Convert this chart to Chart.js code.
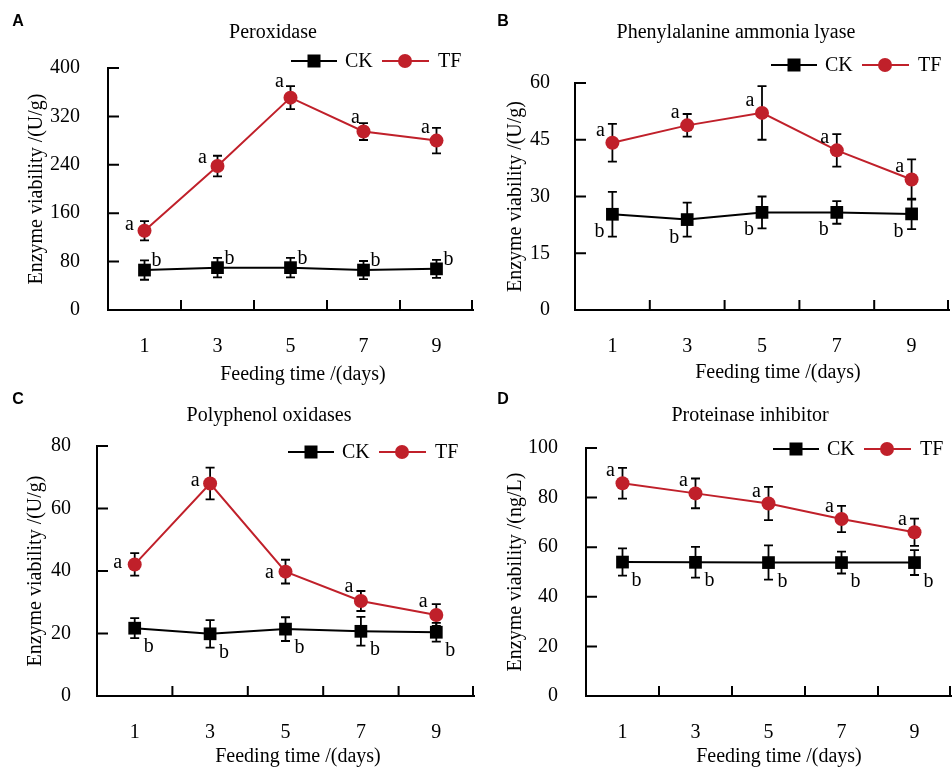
<!DOCTYPE html>
<html>
<head>
<meta charset="utf-8">
<title>Enzyme viability</title>
<script src="https://cdn.jsdelivr.net/npm/chart.js@4.4.1/dist/chart.umd.min.js"></script>
<style>
  html, body { margin: 0; padding: 0; background: #fff; }
  #figure { position: relative; width: 952px; height: 767px; overflow: hidden; background: #fff; }
  #figure canvas { position: absolute; }
</style>
</head>
<body>
<div id="figure"></div>
<script>
// Values (mean and error bar half-length)
const days = ['1', '3', '5', '7', '9'];
const seriesNames = ['CK', 'TF'];

// A - peroxidase
const podCK = [66, 70, 70, 66, 68];
const podCKErr = [16, 16, 16, 15, 15];
const podTF = [131, 238, 351, 295, 280];
const podTFErr = [16, 17, 19, 14, 21];
const podTicks = [0, 80, 160, 240, 320, 400];

// B - phenylalanine ammonia lyase
const palCK = [25.3, 23.9, 25.8, 25.8, 25.4];
const palCKErr = [5.9, 4.5, 4.2, 3.0, 4.0];
const palTF = [44.2, 48.8, 52.1, 42.2, 34.5];
const palTFErr = [5.0, 3.0, 7.1, 4.3, 5.3];
const palTicks = [0, 15, 30, 45, 60];

// C - polyphenol oxidases
const ppoCK = [21.7, 19.9, 21.4, 20.7, 20.4];
const ppoCKErr = [3.2, 4.4, 3.8, 4.6, 3.0];
const ppoTF = [42.1, 68.0, 39.8, 30.4, 25.9];
const ppoTFErr = [3.6, 5.1, 3.8, 3.2, 3.5];
const ppoTicks = [0, 20, 40, 60, 80];

// D - proteinase inhibitor
const piCK = [54.0, 53.9, 53.8, 53.8, 53.8];
const piCKErr = [5.5, 6.2, 6.9, 4.4, 5.0];
const piTF = [85.8, 81.7, 77.6, 71.4, 66.0];
const piTFErr = [6.2, 6.0, 6.7, 5.3, 5.5];
const piTicks = [0, 20, 40, 60, 80, 100];

// significance letters
const ckLetters = ['b', 'b', 'b', 'b', 'b'];
const tfLetters = ['a', 'a', 'a', 'a', 'a'];

const panelTags = ['A', 'B', 'C', 'D'];
const panelTitles = ['Peroxidase', 'Phenylalanine ammonia lyase', 'Polyphenol oxidases', 'Proteinase inhibitor'];
const yTitles = ['Enzyme viability /(U/g)', 'Enzyme viability /(U/g)', 'Enzyme viability /(U/g)', 'Enzyme viability /(ng/L)'];
const xTitle = 'Feeding time /(days)';

// Styles
const RED = '#c0202a';
const SERIF = "'Liberation Serif', 'Times New Roman', serif";
const CANVAS_W = 476, CANVAS_H = 390;

Chart.defaults.font.family = SERIF;
Chart.defaults.font.size = 20;
Chart.defaults.color = '#000';

// panel placement and plot box (local pixels)
const boxes = [
  { x: 0,   y: 0,   l: 108, r: 473, t: 68, b: 310, yPad: 28, yTitleX: 37, xTitleX: 303, xTitleY: 375, titleX: 273, titleY: 33, legX: 291, legY: 61, tagX: 18, tagY: 22 },
  { x: 476, y: 0,   l: 99,  r: 473, t: 83, b: 310, yPad: 25, yTitleX: 40, xTitleX: 302, xTitleY: 373, titleX: 260, titleY: 33, legX: 295, legY: 65, tagX: 27, tagY: 22 },
  { x: 0,   y: 384, l: 97,  r: 474, t: 62, b: 312, yPad: 26, yTitleX: 36, xTitleX: 298, xTitleY: 373, titleX: 269, titleY: 32, legX: 288, legY: 68, tagX: 18, tagY: 16 },
  { x: 476, y: 384, l: 110, r: 475, t: 64, b: 312, yPad: 28, yTitleX: 40, xTitleX: 303, xTitleY: 373, titleX: 274, titleY: 32, legX: 297, legY: 65, tagX: 27, tagY: 16 }
];

// where the letters sit next to each point
const letterShift = [
  { ck: [12, -11], tf: [[-15, -6], [-15, -8], [-11, -16], [-8, -14], [-11, -13]] },
  { ck: [-13, 16], tf: [-12, -12] },
  { ck: [14, 17], tf: [[-17, -1], [-15, -3], [-16, 1], [-12, -14], [-13, -13]] },
  { ck: [14, 17], tf: [-12, -12] }
];

function shiftAt(s, k) {
  return Array.isArray(s[0]) ? s[k] : s;
}

function extras(idx) {
  const box = boxes[idx];
  const shift = letterShift[idx];
  return {
    id: 'extras' + idx,
    beforeDatasetsDraw(chart) {
      const ctx = chart.ctx, ys = chart.scales.y, xs = chart.scales.x, area = chart.chartArea;
      ctx.save();
      ctx.strokeStyle = '#000';
      ctx.lineWidth = 2;
      // inward tick marks
      ctx.beginPath();
      for (let i = 0; i < days.length; i++) {
        const px = i < days.length - 1 ? (xs.getPixelForTick(i) + xs.getPixelForTick(i + 1)) / 2 : area.right - 1;
        ctx.moveTo(px, area.bottom);
        ctx.lineTo(px, area.bottom - 10);
      }
      ys.ticks.forEach(t => {
        if (t.value === 0) return;
        const py = ys.getPixelForValue(t.value);
        ctx.moveTo(area.left, py);
        ctx.lineTo(area.left + 11, py);
      });
      ctx.stroke();
      // error bars
      ctx.lineWidth = 1.8;
      chart.data.datasets.forEach((ds, di) => {
        const meta = chart.getDatasetMeta(di);
        ds.data.forEach((v, k) => {
          const x = meta.data[k].x;
          const top = ys.getPixelForValue(v + ds.errors[k]);
          const bot = ys.getPixelForValue(v - ds.errors[k]);
          ctx.beginPath();
          ctx.moveTo(x, top); ctx.lineTo(x, bot);
          ctx.moveTo(x - 4.5, top); ctx.lineTo(x + 4.5, top);
          ctx.moveTo(x - 4.5, bot); ctx.lineTo(x + 4.5, bot);
          ctx.stroke();
        });
      });
      ctx.restore();
    },
    afterDatasetsDraw(chart) {
      const ctx = chart.ctx;
      ctx.save();
      ctx.font = '20px ' + SERIF;
      ctx.fillStyle = '#000';
      ctx.textAlign = 'center';
      ctx.textBaseline = 'alphabetic';
      chart.data.datasets.forEach((ds, di) => {
        const meta = chart.getDatasetMeta(di);
        const s = di === 0 ? shift.ck : shift.tf;
        ds.letters.forEach((txt, k) => {
          const pt = meta.data[k];
          const d = shiftAt(s, k);
          const m = ctx.measureText(txt);
          const yy = pt.y + d[1] + (m.actualBoundingBoxAscent - m.actualBoundingBoxDescent) / 2;
          ctx.fillText(txt, pt.x + d[0], yy);
        });
      });
      ctx.restore();
    },
    afterDraw(chart) {
      const ctx = chart.ctx;
      ctx.save();
      ctx.fillStyle = '#000';
      ctx.font = '20px ' + SERIF;
      ctx.textAlign = 'center';
      ctx.textBaseline = 'middle';
      // title and x axis title
      ctx.fillText(panelTitles[idx], box.titleX, box.titleY);
      ctx.fillText(xTitle, box.xTitleX, box.xTitleY);
      // panel tag
      ctx.font = 'bold 16px "Liberation Sans", Arial, sans-serif';
      ctx.fillText(panelTags[idx], box.tagX, box.tagY);
      // legend
      const lx = box.legX, ly = box.legY;
      ctx.lineWidth = 2;
      ctx.strokeStyle = '#000';
      ctx.beginPath(); ctx.moveTo(lx, ly); ctx.lineTo(lx + 46, ly); ctx.stroke();
      ctx.fillStyle = '#000';
      ctx.fillRect(lx + 23 - 6.5, ly - 6.5, 13, 13);
      ctx.strokeStyle = RED;
      ctx.beginPath(); ctx.moveTo(lx + 91, ly); ctx.lineTo(lx + 138, ly); ctx.stroke();
      ctx.fillStyle = RED;
      ctx.beginPath(); ctx.arc(lx + 114, ly, 7, 0, Math.PI * 2); ctx.fill();
      ctx.fillStyle = '#000';
      ctx.font = '20px ' + SERIF;
      ctx.textAlign = 'left';
      ctx.fillText(seriesNames[0], lx + 54, ly + 1);
      ctx.fillText(seriesNames[1], lx + 147, ly + 1);
      ctx.restore();
    }
  };
}

function makePanel(idx, ck, ckErr, tf, tfErr, ticks) {
  const box = boxes[idx];
  const canvas = document.createElement('canvas');
  canvas.width = CANVAS_W;
  canvas.height = CANVAS_H;
  canvas.style.left = box.x + 'px';
  canvas.style.top = box.y + 'px';
  document.getElementById('figure').appendChild(canvas);

  new Chart(canvas, {
    type: 'line',
    data: {
      labels: days,
      datasets: [
        {
          label: seriesNames[0], data: ck, errors: ckErr, letters: ckLetters,
          borderColor: '#000', backgroundColor: '#000', borderWidth: 2,
          pointStyle: 'rect', pointRadius: 9, pointBorderWidth: 0, tension: 0, clip: false
        },
        {
          label: seriesNames[1], data: tf, errors: tfErr, letters: tfLetters,
          borderColor: RED, backgroundColor: RED, borderWidth: 2,
          pointStyle: 'circle', pointRadius: 7, pointBorderWidth: 0, tension: 0, clip: false
        }
      ]
    },
    options: {
      responsive: false,
      animation: false,
      devicePixelRatio: 1,
      events: [],
      layout: {
        autoPadding: false,
        padding: { left: 0, top: box.t, right: CANVAS_W - box.r, bottom: 0 }
      },
      plugins: { legend: { display: false }, title: { display: false }, tooltip: { enabled: false } },
      scales: {
        x: {
          type: 'category',
          offset: true,
          grid: { display: false, drawTicks: false },
          border: { display: true, color: '#000', width: 2 },
          ticks: { padding: 25, font: { size: 20 }, color: '#000', maxRotation: 0 },
          afterFit: s => {
            s.height = CANVAS_H - box.b;
            s.paddingLeft = 0;
            s.paddingRight = 0;
          }
        },
        y: {
          min: ticks[0],
          max: ticks[ticks.length - 1],
          grid: { display: false, drawTicks: false },
          border: { display: true, color: '#000', width: 2 },
          ticks: { padding: box.yPad, font: { size: 20 }, color: '#000' },
          afterBuildTicks: s => { s.ticks = ticks.map(v => ({ value: v })); },
          title: { display: true, text: yTitles[idx], font: { size: 20 }, color: '#000',
                   padding: { top: box.yTitleX - 12, bottom: 0 } },
          afterFit: s => {
            s.width = box.l;
            s.paddingTop = 0;
            s.paddingBottom = 0;
          }
        }
      }
    },
    plugins: [extras(idx)]
  });
}

makePanel(0, podCK, podCKErr, podTF, podTFErr, podTicks);
makePanel(1, palCK, palCKErr, palTF, palTFErr, palTicks);
makePanel(2, ppoCK, ppoCKErr, ppoTF, ppoTFErr, ppoTicks);
makePanel(3, piCK, piCKErr, piTF, piTFErr, piTicks);
</script>
</body>
</html>
